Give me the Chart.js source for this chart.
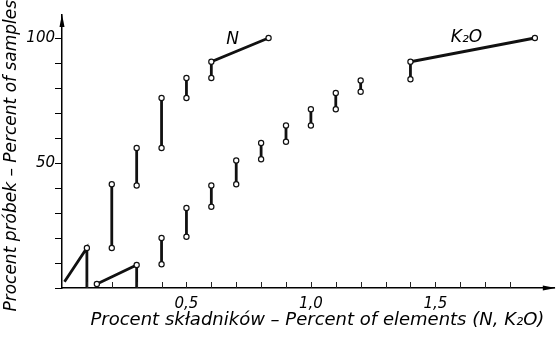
<!DOCTYPE html>
<html>
<head>
<meta charset="utf-8">
<script src="https://cdn.jsdelivr.net/npm/chart.js@4/dist/chart.umd.min.js"></script>
<style>
  html, body { margin: 0; padding: 0; background: #fff; }
  #wrap { width: 560px; height: 337px; }
</style>
</head>
<body>
<div id="wrap"><canvas id="plot"></canvas></div>
<script>
// N: vertical ranges at each x (percent of samples)
const nX    = [0.1, 0.2,  0.3, 0.4, 0.5, 0.6];
const nLow  = [0,   16,   41,  56,  76,  84];
const nHigh = [16,  41.5, 56,  76,  84,  90.5];
const nLead = [0.01, 2.5];   // diagonal start
const nTail = [0.83, 100];   // diagonal end

// K2O
const kX    = [0.3, 0.4, 0.5,  0.6,  0.7,  0.8,  0.9,  1.0,  1.1,  1.2,  1.4];
const kLow  = [0,   9.5, 20.5, 32.5, 41.5, 51.5, 58.5, 65,   71.5, 78.5, 83.5];
const kHigh = [9.2, 20,  32,   41,   51,   58,   65,   71.5, 78,   83,   90.5];
const kLead = [0.14, 1.6];
const kTail = [1.9, 100];

const seriesNames = ['N', 'K\u2082O'];
const xTickLabels = { 5: '0,5', 10: '1,0', 15: '1,5' };
const yTickLabels = [50, 100];

const FONT = "'DejaVu Sans', sans-serif";

function buildSeries(xs, lows, highs, lead, tail, leadMark) {
    const pts = [];
    pts.push({ x: lead[0], y: lead[1], m: leadMark });
    pts.push({ x: xs[0], y: highs[0], m: true });
    pts.push({ x: xs[0], y: lows[0], m: lows[0] > 0 });
    pts.push({ x: xs[0], y: null });
    for (let i = 1; i < xs.length; i++) {
        pts.push({ x: xs[i], y: lows[i], m: true });
        pts.push({ x: xs[i], y: highs[i], m: true });
        if (i < xs.length - 1) pts.push({ x: xs[i], y: null });
    }
    pts.push({ x: tail[0], y: tail[1], m: true });
    return pts;
}

const lineStyle = {
    borderColor: '#111',
    borderWidth: 2.8,
    spanGaps: false,
    pointRadius: c => (c.raw && c.raw.m ? 2.6 : 0),
    pointBackgroundColor: '#fff',
    pointBorderColor: '#111',
    pointBorderWidth: 1.2,
    tension: 0
};

// inward x ticks, axis arrows and series names
const decor = {
    id: 'decor',
    afterDraw(chart) {
        const ctx = chart.ctx;
        const xs = chart.scales.x, ys = chart.scales.y;
        const a = chart.chartArea;
        ctx.save();
        ctx.strokeStyle = '#222';
        ctx.lineWidth = 1;
        xs.ticks.forEach(t => {
            if (t.value <= 0) return;
            const px = Math.round(xs.getPixelForValue(t.value)) + 0.5;
            ctx.beginPath();
            ctx.moveTo(px, a.bottom - 6);
            ctx.lineTo(px, a.bottom);
            ctx.stroke();
        });
        ctx.fillStyle = '#000';
        // y arrow
        ctx.beginPath();
        ctx.moveTo(a.left, a.top - 1);
        ctx.lineTo(a.left - 2.5, a.top + 12);
        ctx.lineTo(a.left + 2.5, a.top + 12);
        ctx.closePath();
        ctx.fill();
        // x arrow
        ctx.beginPath();
        ctx.moveTo(a.right + 1, a.bottom);
        ctx.lineTo(a.right - 12, a.bottom - 2.5);
        ctx.lineTo(a.right - 12, a.bottom + 2.5);
        ctx.closePath();
        ctx.fill();
        // names
        ctx.font = 'italic 17px ' + FONT;
        ctx.textAlign = 'center';
        ctx.textBaseline = 'middle';
        ctx.fillText(seriesNames[0], xs.getPixelForValue(0.685), ys.getPixelForValue(99.5));
        ctx.fillText(seriesNames[1], xs.getPixelForValue(1.625), ys.getPixelForValue(100));
        ctx.restore();
    }
};

new Chart(document.getElementById('plot').getContext('2d'), {
    type: 'scatter',
    data: {
        datasets: [
            Object.assign({ label: seriesNames[0], data: buildSeries(nX, nLow, nHigh, nLead, nTail, false), showLine: true }, lineStyle),
            Object.assign({ label: seriesNames[1], data: buildSeries(kX, kLow, kHigh, kLead, kTail, true), showLine: true }, lineStyle)
        ]
    },
    options: {
        responsive: true,
        maintainAspectRatio: false,
        animation: false,
        layout: { padding: { top: 15, right: 3, left: 0, bottom: 0 } },
        plugins: { legend: { display: false }, tooltip: { enabled: false } },
        scales: {
            x: {
                type: 'linear',
                min: 0,
                max: 1.98,
                afterFit: s => { s.height = 49; },
                afterBuildTicks: s => { s.ticks = s.ticks.filter(t => t.value <= 1.95); },
                ticks: {
                    stepSize: 0.1,
                    autoSkip: false,
                    maxRotation: 0,
                    padding: 7,
                    color: '#000',
                    font: { family: FONT, size: 15, style: 'italic' },
                    callback: v => xTickLabels[Math.round(v * 10)] || ''
                },
                grid: { display: false, drawTicks: false, tickLength: 0 },
                border: { display: true, color: '#000', width: 1.5 },
                title: {
                    display: true,
                    text: '\u2002\u2002Procent sk\u0142adnik\u00f3w \u2013 Percent of elements (N, K\u2082O)',
                    color: '#000',
                    font: { family: FONT, size: 18, style: 'italic' },
                    padding: { top: 0, bottom: 6 }
                }
            },
            y: {
                min: 0,
                max: 109.2,
                afterFit: s => { s.width = 62; },
                afterBuildTicks: s => { s.ticks = s.ticks.filter(t => t.value <= 100); },
                ticks: {
                    stepSize: 10,
                    padding: 0,
                    color: '#000',
                    font: { family: FONT, size: 15, style: 'italic' },
                    callback: v => (yTickLabels.includes(v) ? String(v) : '')
                },
                grid: { drawOnChartArea: false, tickLength: 7, color: '#000', lineWidth: 1 },
                border: { display: true, color: '#000', width: 1.5 },
                title: {
                    display: true,
                    text: 'Procent pr\u00f3bek \u2013 Percent of samples\u2002',
                    color: '#000',
                    font: { family: FONT, size: 17, style: 'italic' },
                    padding: { top: 1, bottom: 0 }
                }
            }
        }
    },
    plugins: [decor]
});
</script>
</body>
</html>
